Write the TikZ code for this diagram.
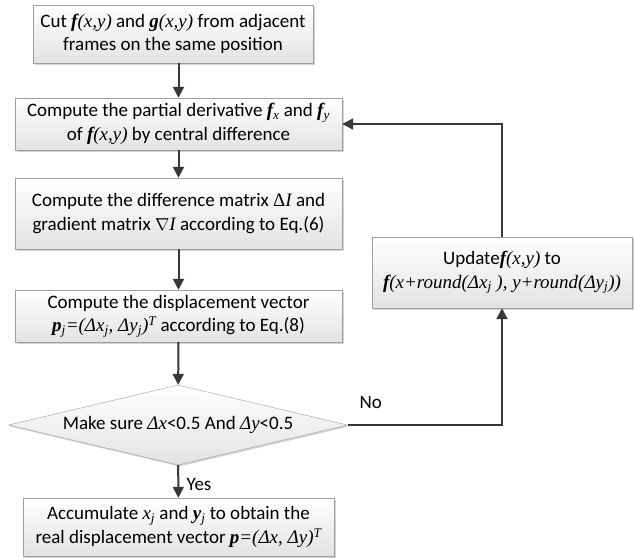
\documentclass[tikz,border=0pt]{standalone}
\usepackage{fontspec}
\setmainfont{Carlito}
\newfontfamily\tms{Liberation Serif}
\usetikzlibrary{shapes.geometric,arrows.meta,shadows}
\tikzset{>={Triangle[length=11pt,width=11pt]}}
\newcommand{\bfi}[1]{{\tms\bfseries\itshape #1}}
\newcommand{\iti}[1]{{\tms\itshape #1}}

\begin{document}
\begin{tikzpicture}[x=1pt,y=-1pt,
    stepbox/.style={draw=gray!75, top color=white, bottom color=gray!22,
      drop shadow={shadow xshift=1.5pt,shadow yshift=-1.5pt,opacity=0.35},
      align=center, inner sep=0pt, font=\fontsize{19}{23.5}\selectfont},
    checkbox/.style={stepbox, shape=diamond, aspect=4.2},
    flow/.style={->, line width=2pt, draw=black!78},
    tag/.style={font=\fontsize{19}{22}\selectfont}]
  \useasboundingbox (0,0) rectangle (634,558);

  \node[stepbox, minimum width=280pt, minimum height=58pt] (cut) at (173,34)
    {Cut \bfi{f}\iti{(x,y)} and \bfi{g}\iti{(x,y)} from adjacent\\frames on the same position};
  \node[stepbox, minimum width=327pt, minimum height=52pt] (deriv) at (178.5,124)
    {Compute the partial derivative \bfi{f}\textsubscript{\iti{x}} and \bfi{f}\textsubscript{\iti{y}}\\of \bfi{f}\iti{(x,y)} by central difference};
  \node[stepbox, minimum width=327pt, minimum height=71pt] (diff) at (178.5,213.5)
    {Compute the difference matrix {\tms Δ}\iti{I} and\\gradient matrix $\nabla$\iti{I} according to Eq.(6)};
  \node[stepbox, minimum width=327pt, minimum height=52pt] (disp) at (178.5,316)
    {Compute the displacement vector\\\bfi{p}\textsubscript{\iti{j}}\iti{=(Δx\textsubscript{j}, Δy\textsubscript{j})\textsuperscript{T}} according to Eq.(8)};
  \node[checkbox, minimum width=339pt, minimum height=80pt] (check) at (178,425)
    {Make sure \iti{Δx}<0.5 And \iti{Δy}<0.5};
  \node[stepbox, minimum width=311pt, minimum height=58pt] (accum) at (178.5,527)
    {Accumulate \iti{x\textsubscript{j}} and \bfi{y}\textsubscript{\iti{j}} to obtain the\\real displacement vector \bfi{p}\iti{=(Δx, Δy)\textsuperscript{T}}};
  \node[stepbox, minimum width=260pt, minimum height=71pt] (update) at (502,272.5)
    {Update\bfi{f}\iti{(x,y)} to\\\bfi{f}\iti{(x+round(Δx\textsubscript{j} ), y+round(Δy\textsubscript{j}))}};

  % main column
  \draw[flow] (cut.south -| deriv.north) -- (deriv.north);
  \draw[flow] (deriv) -- (diff);
  \draw[flow] (diff) -- (disp);
  \draw[flow] (disp) -- (check);
  \draw[flow] (check) -- node[tag, right, xshift=4pt, yshift=-3pt] (yes) {Yes} (accum);

  % loop back
  \draw[flow] (check.east) -- node[tag, pos=0.15, above, yshift=12pt] (no) {No} (update.south |- check.east) -- (update.south);
  \draw[flow] (update.north) |- (deriv.east);
\end{tikzpicture}
\end{document}
